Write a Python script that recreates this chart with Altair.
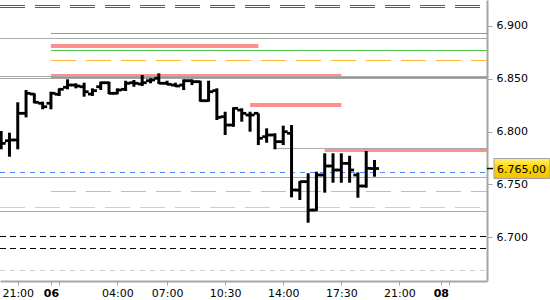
import altair as alt
import pandas as pd

# ---------------- data ----------------
# bar times: hours relative to the start of day "06" (half-hour bars)
bar_hours = [-3.0, -2.5, -2.0, -1.5, -1.0, -0.5, 0.0, 0.5, 1.0, 1.5, 2.0, 2.5,
             3.0, 3.5, 4.0, 4.5, 5.0, 5.5, 6.0, 6.5, 7.0, 7.5, 8.0, 8.5,
             9.0, 9.5, 10.0, 10.5, 11.0, 11.5, 12.0, 12.5, 13.0, 13.5, 14.0, 14.5,
             15.0, 15.5, 16.0, 16.5, 17.0, 17.5, 18.0, 18.5, 19.0, 19.5]
highs = [6800.5, 6798.9, 6827.6, 6839.2, 6836.1, 6828.2, 6837.6, 6840.8, 6849.3, 6845.6,
         6846.1, 6840.8, 6847.1, 6847.1, 6840.8, 6848.0, 6848.7, 6853.4, 6850.3, 6855.0,
         6848.0, 6846.1, 6849.3, 6849.3, 6848.0, 6848.0, 6840.8, 6818.7, 6822.9, 6821.9,
         6818.7, 6817.2, 6803.0, 6798.3, 6805.5, 6806.1, 6753.2, 6760.5, 6762.0, 6779.4,
         6779.4, 6779.4, 6777.1, 6761.4, 6781.6, 6773.1]
lows = [6783.2, 6776.2, 6783.2, 6813.4, 6826.7, 6821.0, 6821.0, 6833.6, 6839.9, 6840.8,
        6832.9, 6833.6, 6839.2, 6835.2, 6835.2, 6838.3, 6842.3, 6843.0, 6845.6, 6844.9,
        6843.9, 6842.3, 6839.2, 6843.9, 6828.2, 6828.2, 6810.9, 6796.7, 6804.5, 6809.3,
        6799.8, 6787.2, 6789.4, 6783.2, 6787.2, 6737.8, 6735.3, 6713.8, 6724.9, 6742.2,
        6751.6, 6751.6, 6751.6, 6737.4, 6746.9, 6757.3]
opens = [6788.8, 6791.3, 6792.0, 6817.2, 6835.4, 6826.7, 6826.7, 6835.2, 6841.8, 6843.9,
         6842.3, 6835.4, 6842.3, 6846.1, 6836.1, 6839.9, 6846.1, 6844.9, 6848.0, 6850.3,
         6845.6, 6843.9, 6843.9, 6848.0, 6847.1, 6829.1, 6838.6, 6814.0, 6806.1, 6820.3,
         6815.6, 6817.2, 6795.1, 6796.7, 6790.4, 6798.3, 6744.7, 6752.6, 6725.8, 6758.9,
         6767.4, 6763.6, 6769.9, 6758.9, 6748.5, 6765.0]
closes = [6788.8, 6792.0, 6817.2, 6836.1, 6827.6, 6823.4, 6836.1, 6839.9, 6843.9, 6843.0,
          6837.6, 6838.6, 6846.1, 6836.1, 6839.2, 6845.6, 6845.6, 6846.1, 6848.7, 6845.6,
          6844.6, 6843.0, 6848.0, 6847.1, 6829.1, 6837.6, 6813.4, 6806.1, 6821.9, 6817.2,
          6815.6, 6793.6, 6796.7, 6790.4, 6799.8, 6744.7, 6752.6, 6725.8, 6758.9, 6767.4,
          6763.6, 6769.9, 6763.6, 6748.5, 6765.2, 6765.0]

last_price = 6765.0

# x extent of the plot (hours) and y extent (price)
x_start = -3.07
x_end = 26.28
y_low = 6658.7
y_high = 6924.3

# x-axis ticks
tick_hours = [-2, 0, 0.5, 4, 7, 10.5, 14, 17.5, 21, 23.5, 24]
tick_labels = ["21:00", "06", "", "04:00", "07:00", "10:30", "14:00", "17:30", "21:00", "08", ""]
bold_hours = [0, 23.5]
y_ticks = [6700, 6750, 6800, 6850, 6900]

# horizontal levels: price, start hour, end hour
gray_levels = [6887.91, 6851.99, 6850.10, 6783.94, 6756.53, 6724.39]
gray_starts = [x_start, x_start, x_start, 13.5, x_start, x_start]
green_levels = [6892.64, 6876.57, 6851.05]
green_starts = [0, 0, 0]
pink_levels = [6880.82, 6852.47, 6825.05, 6782.52]
pink_starts = [0, 0, 12, 16.5]
pink_ends = [12.5, 17.5, 17.5, x_end]
red_levels = [6919.10, 6917.21]
orange_levels = [6867.12, 6743.30]
lgray_long_levels = [6728.17]
blue_levels = [6761.25]
black_levels = [6700.76, 6689.42]
lgray_short_levels = [6668.62]

# ---------------- chart ----------------
FONT = "DejaVu Sans"

bars = pd.DataFrame({"t": bar_hours, "high": highs, "low": lows,
                     "open": opens, "close": closes})

xscale = alt.Scale(domain=[x_start, x_end], nice=False, zero=False)
yscale = alt.Scale(domain=[y_low, y_high], nice=False, zero=False)

lookup = "[" + ",".join(repr(v) for v in tick_labels) + "][indexof([" + \
    ",".join(str(v) for v in tick_hours) + "], datum.value)]"
bold_test = " || ".join(f"datum.value == {v}" for v in bold_hours)

x_axis = alt.Axis(values=tick_hours, labelExpr=lookup, grid=False,
                  domainColor="#a6a6a6", domainWidth=2, tickColor="#a6a6a6",
                  tickSize=4, labelPadding=2, labelFont=FONT, labelFontSize=11,
                  labelColor="#000000", labelBaseline="top",
                  labelFontWeight={"condition": {"test": bold_test, "value": "bold"},
                                   "value": "normal"},
                  title="")
y_axis = alt.Axis(orient="right", values=y_ticks,
                  labelExpr="replace(format(datum.value, ','), ',', '.')",
                  grid=False, domainColor="#a6a6a6", domainWidth=2,
                  tickColor="#a6a6a6", tickSize=5, labelPadding=4,
                  labelFont=FONT, labelFontSize=11, labelColor="#000000", title="")


def levels(values, starts, ends, color, width, dash=None, axes=False):
    df = pd.DataFrame({"y": values, "x": starts, "x2": ends})
    kw = dict(color=color, strokeWidth=width, strokeCap="butt")
    if dash:
        kw["strokeDash"] = dash
    if axes:
        enc = dict(x=alt.X("x:Q", scale=xscale, axis=x_axis),
                   x2="x2:Q",
                   y=alt.Y("y:Q", scale=yscale, axis=y_axis))
    else:
        enc = dict(x=alt.X("x:Q", scale=xscale), x2="x2:Q",
                   y=alt.Y("y:Q", scale=yscale))
    return alt.Chart(df).mark_rule(**kw).encode(**enc)


layers = [
    levels(red_levels, [x_start] * 2, [x_end] * 2, "#ec1c24", 1, [25, 10], axes=True),
    levels(pink_levels, pink_starts, pink_ends, "#ff8f8f", 4),
    levels(gray_levels, gray_starts, [x_end] * len(gray_levels), "#a9a9a9", 1),
    levels(green_levels, green_starts, [x_end] * 3, "#4cc94c", 1),
    levels(orange_levels, [0, 0], [x_end] * 2, "#f9b835", 1, [25, 10]),
    levels(lgray_long_levels, [x_start], [x_end], "#cfcfcf", 1, [25, 10]),
    levels(blue_levels, [x_start], [x_end], "#4f8cff", 1, [5, 5]),
    levels(black_levels, [x_start] * 2, [x_end] * 2, "#000000", 1, [6, 4]),
    levels(lgray_short_levels, [x_start], [x_end], "#cfcfcf", 1, [5, 5]),
]

base = alt.Chart(bars)
hl = base.mark_rule(color="#000000", strokeWidth=3, strokeCap="butt").encode(
    x=alt.X("t:Q", scale=xscale), y=alt.Y("low:Q", scale=yscale), y2="high:Q")
op = base.mark_rule(color="#000000", strokeWidth=2.8, strokeCap="butt",
                    xOffset=-4.5, x2Offset=0).encode(
    x=alt.X("t:Q", scale=xscale), x2="t:Q", y=alt.Y("open:Q", scale=yscale))
cl = base.mark_rule(color="#000000", strokeWidth=2.8, strokeCap="butt",
                    xOffset=0, x2Offset=4.5).encode(
    x=alt.X("t:Q", scale=xscale), x2="t:Q", y=alt.Y("close:Q", scale=yscale))

lp_label = f"{last_price:,.2f}".replace(",", "#").replace(".", ",").replace("#", ".")
lp = pd.DataFrame({"p": [last_price], "label": [lp_label]})
lp_base = alt.Chart(lp)
lp_tick = lp_base.mark_rule(color="#000000", strokeWidth=1.5).encode(
    x=alt.value(487), x2=alt.value(493), y=alt.Y("p:Q", scale=yscale))
lp_box = lp_base.mark_rect(
    color=alt.Gradient(gradient="linear",
                       stops=[alt.GradientStop(color="#fff27a", offset=0),
                              alt.GradientStop(color="#ffd400", offset=0.45),
                              alt.GradientStop(color="#f2c200", offset=1)],
                       x1=0, x2=0, y1=0, y2=1),
    stroke="#a0a0a0", strokeWidth=1, yOffset=-10, y2Offset=10).encode(
    x=alt.value(494), x2=alt.value(550), y=alt.Y("p:Q", scale=yscale), y2="p:Q")
lp_text = lp_base.mark_text(align="left", baseline="middle", font=FONT,
                            fontSize=11, color="#000000", dy=1).encode(
    x=alt.value(497), y=alt.Y("p:Q", scale=yscale), text="label:N")

chart = alt.layer(*layers, hl, op, cl, lp_tick, lp_box, lp_text).properties(
    width=487, height=281,
    padding={"left": 0, "top": 0, "right": 63, "bottom": 19},
    autosize="none",
    background="#ffffff",
).configure_view(stroke=None)

chart.save("out.html", embed_options={"renderer": "svg", "actions": False})
